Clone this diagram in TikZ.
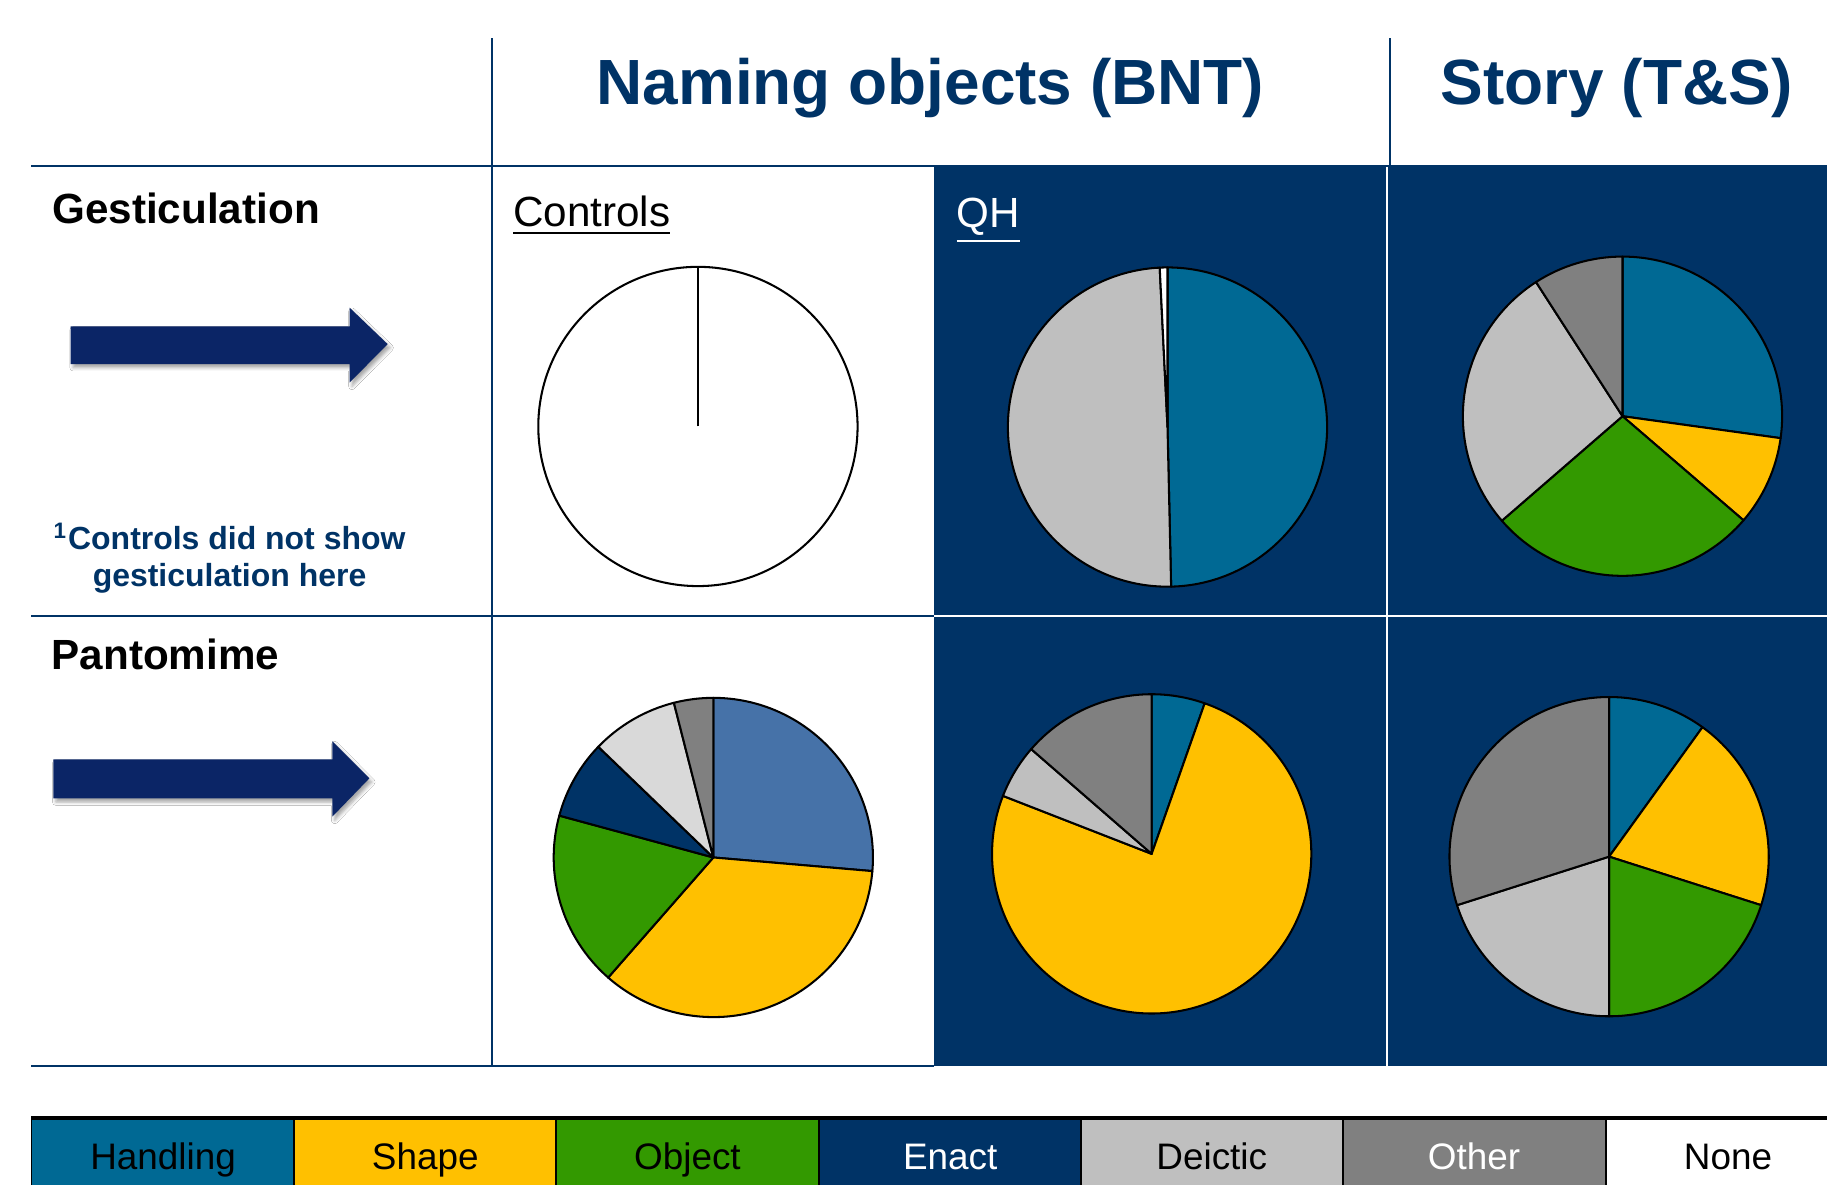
\documentclass[tikz,border=0pt]{standalone}
\usepackage{fontspec}
\setmainfont{Liberation Sans}
\usetikzlibrary{shadows.blur}
\definecolor{navy}{RGB}{0,51,102}
\definecolor{arrownavy}{RGB}{11,37,102}
\definecolor{handling}{RGB}{0,105,148}
\definecolor{shapec}{RGB}{255,192,0}
\definecolor{objectc}{RGB}{51,153,0}
\definecolor{enactc}{RGB}{0,51,102}
\definecolor{deictic}{RGB}{191,191,191}
\definecolor{otherc}{RGB}{128,128,128}
\definecolor{steel}{RGB}{70,114,168}
\definecolor{lightdeictic}{RGB}{217,217,217}
\newcommand{\pieslice}[3]{\filldraw[fill=#1, pieline] (0,0) -- (#2:137) arc[start angle=#2, end angle=#3, radius=137] -- cycle;}
\tikzset{
  txt/.style={inner sep=0pt, outer sep=0pt},
  headfont/.style={txt, text=navy, font=\fontsize{15.6}{18}\selectfont\bfseries},
  rowfont/.style={txt, text=black, font=\fontsize{10.3}{12}\selectfont\bfseries},
  subfont/.style={txt, font=\fontsize{10.3}{12}\selectfont},
  footfont/.style={txt, text=navy, font=\fontsize{7.8}{9}\selectfont\bfseries},
  legfont/.style={txt, font=\fontsize{9}{11}\selectfont, anchor=base},
  pieline/.style={draw=black, line width=0.5pt, line join=round},
  gridline/.style={draw=navy, line width=0.45pt},
  whiteline/.style={draw=white, line width=0.5pt},
  bigarrow/.style={fill=arrownavy, blur shadow={shadow xshift=0.6pt, shadow yshift=-0.9pt, shadow blur radius=0.8pt, shadow opacity=35}},
  legbox/.style={draw=black, line width=0.45pt},
}
\begin{document}
\begin{tikzpicture}[x=0.01cm, y=-0.01cm]
\clip (0,0) rectangle (1568,1017);
\fill[white] (0,0) rectangle (1568,1017);

% dark background of the QH and Story cells
\fill[navy] (802,143.5) rectangle (1568,915);

% grid lines
\draw[gridline] (422,33) -- (422,915);
\draw[gridline] (1193,33) -- (1193,142);
\draw[navy, line width=0.6pt] (27,142.3) -- (1568,142.3);
\draw[gridline] (27,528.5) -- (802,528.5);
\draw[whiteline] (802,528.5) -- (1568,528.5);
\draw[whiteline] (1190.5,143.5) -- (1190.5,915);
\draw[gridline] (27,915) -- (802,915);

% headers
\node[headfont, anchor=base] (bnt) at (798.5,90) {Naming objects (BNT)};
\node[headfont, anchor=base] (ts) at (1387.5,90) {Story (T\&S)};

% row labels
\node[rowfont, anchor=base west] (gest) at (45,191.5) {Gesticulation};
\node[rowfont, anchor=base west] (pant) at (44.3,575) {Pantomime};

% footnote
\node[footfont, anchor=base] (note1) at (197,472) {\textsuperscript{1}Controls did not show};
\node[footfont, anchor=base] (note2) at (197,503.5) {gesticulation here};

% column sub labels
\node[subfont, anchor=base west] (ctl) at (440.5,194.5) {\underline{Controls}};
\node[subfont, anchor=base west, text=white] (qh) at (821,195) {\underline{QH}};

% arrows
\path[bigarrow] (60.7,280) -- (300,280) -- (300,264) -- (332.7,295.3) -- (300,328.4) -- (300,312.4) -- (60.7,312.4) -- cycle;
\path[bigarrow] (45.8,651.7) -- (285.2,651.7) -- (285.2,636) -- (317,668) -- (285.2,700.9) -- (285.2,685.2) -- (45.8,685.2) -- cycle;

% pie 1: controls, gesticulation
\begin{scope}[shift={(599,366)}, yscale=-1]
  \filldraw[fill=white, pieline] (0,0) circle[radius=137];
  \draw[pieline] (0,0) -- (90:137);
\end{scope}

% pie 2: QH, gesticulation
\begin{scope}[shift={(1002,366.5)}, yscale=-1]
  \pieslice{handling}{90}{-88.7}
  \pieslice{deictic}{-88.7}{-267.2}
  \pieslice{white}{-267.2}{-270}
\end{scope}

% pie 3: story, gesticulation
\begin{scope}[shift={(1392.5,357.2)}, yscale=-1]
  \pieslice{handling}{90}{-7.9}
  \pieslice{shapec}{-7.9}{-40.7}
  \pieslice{objectc}{-40.7}{-139.1}
  \pieslice{deictic}{-139.1}{-237.2}
  \pieslice{otherc}{-237.2}{-270}
\end{scope}

% pie 4: controls, pantomime
\begin{scope}[shift={(612.2,735.9)}, yscale=-1]
  \pieslice{steel}{90}{-4.9}
  \pieslice{shapec}{-4.9}{-131.2}
  \pieslice{objectc}{-131.2}{-195.2}
  \pieslice{enactc}{-195.2}{-223.9}
  \pieslice{lightdeictic}{-223.9}{-255.7}
  \pieslice{otherc}{-255.7}{-270}
\end{scope}

% pie 5: QH, pantomime
\begin{scope}[shift={(988.4,732.8)}, yscale=-1]
  \pieslice{handling}{90}{70.6}
  \pieslice{shapec}{70.6}{-201.3}
  \pieslice{deictic}{-201.3}{-221}
  \pieslice{otherc}{-221}{-270}
\end{scope}

% pie 6: story, pantomime
\begin{scope}[shift={(1381,735.2)}, yscale=-1]
  \pieslice{handling}{90}{54.2}
  \pieslice{shapec}{54.2}{-17.7}
  \pieslice{objectc}{-17.7}{-90}
  \pieslice{deictic}{-90}{-162.3}
  \pieslice{otherc}{-162.3}{-270}
\end{scope}

% legend
\filldraw[legbox, fill=handling] (27,960) rectangle (252.5,1040);
\filldraw[legbox, fill=shapec] (252.5,960) rectangle (477.5,1040);
\filldraw[legbox, fill=objectc] (477.5,960) rectangle (703,1040);
\filldraw[legbox, fill=enactc] (703,960) rectangle (928,1040);
\filldraw[legbox, fill=deictic] (928,960) rectangle (1152.5,1040);
\filldraw[legbox, fill=otherc] (1152.5,960) rectangle (1378,1040);
\filldraw[legbox, fill=white] (1378,960) rectangle (1600,1040);
\draw[black, line width=0.8pt] (27,959.5) -- (1600,959.5);
\node[legfont] (lh) at (140,1004) {Handling};
\node[legfont] (ls) at (365,1004) {Shape};
\node[legfont] (lo) at (590,1004) {Object};
\node[legfont, text=white] (le) at (815.5,1004) {Enact};
\node[legfont] (ld) at (1040,1004) {Deictic};
\node[legfont, text=white] (lt) at (1265,1004) {Other};
\node[legfont] (ln) at (1483,1004) {None};
\end{tikzpicture}
\end{document}
